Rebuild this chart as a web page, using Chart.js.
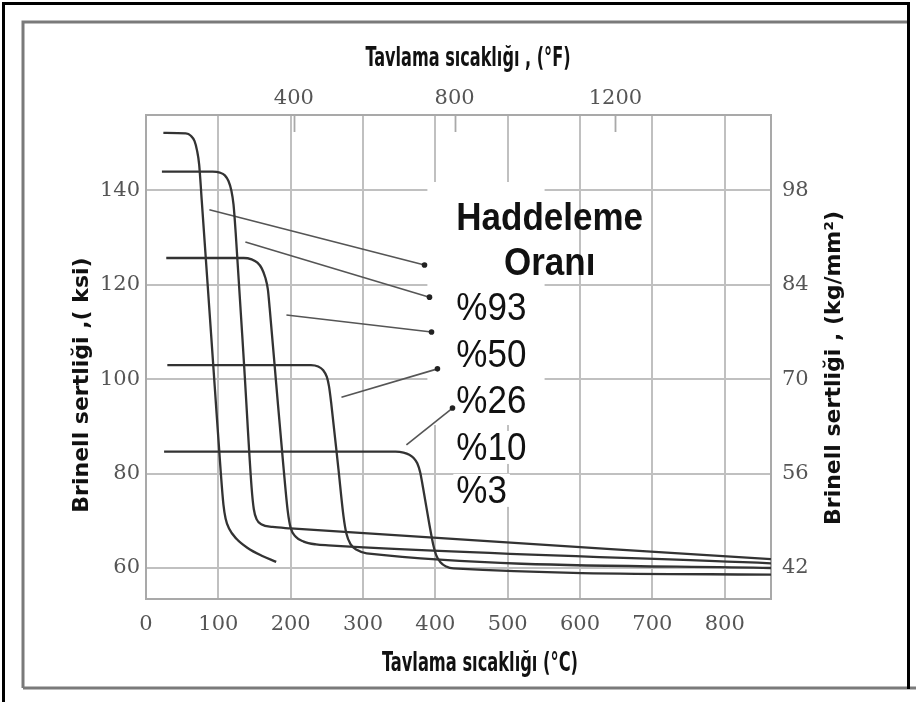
<!DOCTYPE html>
<html><head><meta charset="utf-8">
<script src="https://cdn.jsdelivr.net/npm/chart.js@4.4.1/dist/chart.umd.min.js"></script>
<style>html,body{margin:0;padding:0;background:#fff;overflow:hidden}#wrap{width:916px;height:702px;position:relative}</style>
</head><body><div id="wrap"><canvas id="c" width="916" height="702"></canvas></div>
<script>
// ---- data ----
const xTicksC = [0,100,200,300,400,500,600,700,800];          // °C
const xTicksF = [400,800,1200];                                // °F
const yTicksKsi = [60,80,100,120,140];                         // ksi
const yTicksKg = [42,56,70,84,98];                             // kg/mm²
const seriesNames = ['%93','%50','%26','%10','%3'];
const legendTitle = ['Haddeleme','Oranı'];
const xTitleTop = 'Tavlama sıcaklığı , (°F)';
const xTitleBottom = 'Tavlama sıcaklığı (°C)';
const yTitleLeft = 'Brinell sertliği ,( ksi)';
const yTitleRight = 'Brinell sertliği , (kg/mm²)';

// temperature °C , hardness ksi
const s93 = [[24,152.2],[55,152.1],[62,151.6],[67,150.5],[70.5,148.5],[73.5,145.5],[77,138],[85,120.5],[95,98.5],[103,81],[107,73.5],[110,70.5],[115,68.3],[125,66.2],[140,64.3],[160,62.6],[180,61.3]];
const s50 = [[22,144],[92,144],[102,143.8],[109,143.2],[114,142],[118,140],[121,137],[124,131],[136,102],[146,77],[149,72.5],[153,70.3],[160,69.2],[175,68.7],[200,68.4],[864,61.9]];
const s26 = [[28,125.7],[135,125.7],[146,125.4],[154,124.7],[160,123.5],[165,121.5],[168.5,119],[171,115],[180,99],[190,81.5],[196,72],[200,68.5],[207,66.6],[218,65.6],[235,65.0],[252,64.8],[864,61.0]];
const s10 = [[29.5,103],[228,103],[238,102.7],[245,101.9],[250,100.5],[253,98.5],[256,95],[266,81],[273,71],[277,67.3],[283,65.0],[292,63.8],[305,63.1],[864,60.0]];
const s3 = [[25,84.65],[345,84.65],[356,84.45],[364,84.0],[370,83.3],[375,82.2],[379,80.3],[383,77],[392,69],[397,65],[401,62.8],[407,61.2],[415,60.3],[425,59.9],[864,58.6]];
// annotation arrows: [start, end] in °C / ksi
const arrow1 = [[87.6,135.9],[385.0,124.2]];
const arrow2 = [[137.4,129.1],[391.9,117.4]];
const arrow3 = [[194.1,113.6],[394.7,110.0]];
const arrow4 = [[270.2,96.2],[402.9,102.2]];
const arrow5 = [[360.0,86.1],[423.7,93.9]];

const X_MIN = 0, X_MAX = 864, Y_MIN = 53.43, Y_MAX = 156, KG = 0.7;
const toF = c => 32 + 1.8*c;

// ---- styles ----
const tickFont = {family:'"DejaVu Serif", serif', size:21};
const tickColor = '#555';
const gridColor = '#c0c0c0';
const borderColor = '#a9a9a9';
const curveColor = '#333';

const pts = a => a.map(([x,y]) => ({x, y}));
const curve = (name, arr) => ({label:name, data:pts(arr), showLine:true, borderColor:curveColor, borderWidth:2.3,
  pointRadius:0, cubicInterpolationMode:'monotone', fill:false});
const arrow = arr => ({label:'arrow', data:pts(arr), showLine:true, borderColor:'#555', borderWidth:1.6,
  pointRadius:[0,2.8], pointBackgroundColor:'#222', pointBorderWidth:0, tension:0, fill:false});

const decor = {
  id:'decor',
  beforeDraw(chart){
    const c = chart.ctx;
    c.save();
    c.fillStyle = '#fff'; c.fillRect(0,0,chart.width,chart.height);
    c.strokeStyle = '#7a7a7a'; c.lineWidth = 3;
    c.beginPath(); c.moveTo(23,688); c.lineTo(23,22); c.lineTo(908,22); c.stroke();
    c.beginPath(); c.moveTo(23,688); c.lineTo(916,688); c.stroke();
    c.strokeStyle = '#000'; c.lineWidth = 3;
    c.beginPath(); c.moveTo(3.5,702); c.lineTo(3.5,3.5); c.lineTo(908.5,3.5); c.lineTo(908.5,689); c.stroke();
    c.restore();
  },
  beforeDatasetsDraw(chart){
    const c = chart.ctx, xs = chart.scales.x, ys = chart.scales.y, xt = chart.scales.x2, a = chart.chartArea;
    c.save();
    c.fillStyle = '#fff';
    const bx0 = xs.getPixelForValue(389), bx1 = xs.getPixelForValue(551);
    const by0 = ys.getPixelForValue(141.8), by1 = ys.getPixelForValue(90.3);
    c.fillRect(bx0, by0, bx1-bx0, by1-by0);
    c.strokeStyle = borderColor; c.lineWidth = 1.8;
    xTicksF.forEach(v => { const px = Math.round(xt.getPixelForValue(v))+0.5;
      c.beginPath(); c.moveTo(px, a.top); c.lineTo(px, a.top+17); c.stroke(); });
    c.restore();
  },
  afterDatasetsDraw(chart){
    const c = chart.ctx, xs = chart.scales.x, ys = chart.scales.y, a = chart.chartArea;
    c.save();
    const lx = xs.getPixelForValue(429);
    const base = [131.6,122.1,112.6,102.6,92.85,82.9,73.8].map(v => ys.getPixelForValue(v));
    const drawStretched = (txt, x, y, font, align) => {
      c.save(); c.font = font; c.textAlign = align; c.textBaseline = 'alphabetic';
      c.translate(x, y); c.scale(1, 1.1); c.fillStyle = '#111'; c.fillText(txt, 0, 0); c.restore();
    };
    const fb = 'bold 35px "Liberation Sans", Arial, sans-serif';
    const fr = '35px "Liberation Sans", Arial, sans-serif';
    c.font = fb;
    const wH = c.measureText(legendTitle[0]).width;
    drawStretched(legendTitle[0], lx, base[0], fb, 'left');
    drawStretched(legendTitle[1], lx + wH/2, base[1], fb, 'center');
    seriesNames.forEach((n,i) => {
      c.font = fr;
      const w = c.measureText(n).width;
      if (i >= 3) { c.fillStyle = '#fff'; c.fillRect(lx-3, base[2+i]-29, w+6, 33); }
      drawStretched(n, lx, base[2+i], fr, 'left');
    });
    const fitText = (txt, cx, cy, font, targetW) => {
      c.save(); c.font = font; c.textAlign = 'center'; c.textBaseline = 'middle'; c.fillStyle = '#111';
      const w = c.measureText(txt).width; c.translate(cx, cy); c.scale(targetW / w, 1);
      c.fillText(txt, 0, 0); c.restore();
    };
    const ft = 'bold 26px "Liberation Sans Narrow", "DejaVu Sans Condensed", sans-serif';
    fitText(xTitleTop, 468, 59, ft, 205);
    fitText(xTitleBottom, 480, 664, ft, 196);
    c.fillStyle = '#111'; c.textAlign = 'center'; c.textBaseline = 'middle';
    c.font = 'bold 22px "DejaVu Sans", sans-serif';
    c.save(); c.translate(a.left-64, (a.top+a.bottom)/2 + 28); c.rotate(-Math.PI/2); c.fillText(yTitleLeft, 0, 0); c.restore();
    c.save(); c.translate(a.right+63, (a.top+a.bottom)/2 + 11); c.rotate(-Math.PI/2); c.fillText(yTitleRight, 0, 0); c.restore();
    c.restore();
  }
};

const plain = v => String(v);

new Chart(document.getElementById('c'), {
  type:'scatter',
  data:{datasets:[
    curve(seriesNames[0], s93), curve(seriesNames[1], s50), curve(seriesNames[2], s26),
    curve(seriesNames[3], s10), curve(seriesNames[4], s3),
    arrow(arrow1), arrow(arrow2), arrow(arrow3), arrow(arrow4), arrow(arrow5)
  ]},
  options:{
    responsive:false, animation:false, devicePixelRatio:1,
    layout:{padding:0},
    plugins:{legend:{display:false}, title:{display:false}, tooltip:{enabled:false}},
    scales:{
      x:{type:'linear', position:'bottom', min:X_MIN, max:X_MAX,
        afterBuildTicks: s => { s.ticks = xTicksC.map(v => ({value:v})); },
        afterFit: s => { s.height = 103; },
        grid:{color:gridColor, lineWidth:2, drawTicks:false},
        border:{color:borderColor, width:2},
        ticks:{font:tickFont, color:tickColor, padding:13, maxRotation:0, autoSkip:false, callback:plain}},
      x2:{type:'linear', position:'top', min:toF(X_MIN), max:toF(X_MAX),
        afterBuildTicks: s => { s.ticks = xTicksF.map(v => ({value:v})); },
        afterFit: s => { s.height = 115; },
        grid:{display:false, drawTicks:false},
        border:{color:borderColor, width:2},
        ticks:{font:tickFont, color:tickColor, padding:4, maxRotation:0, autoSkip:false, callback:plain}},
      y:{type:'linear', position:'left', min:Y_MIN, max:Y_MAX,
        afterBuildTicks: s => { s.ticks = yTicksKsi.map(v => ({value:v})); },
        afterFit: s => { s.width = 146; },
        grid:{color:gridColor, lineWidth:2, drawTicks:false},
        border:{color:borderColor, width:2},
        ticks:{font:tickFont, color:tickColor, padding:6, callback:plain}},
      y2:{type:'linear', position:'right', min:Y_MIN*KG, max:Y_MAX*KG,
        afterBuildTicks: s => { s.ticks = yTicksKg.map(v => ({value:v})); },
        afterFit: s => { s.width = 145; },
        grid:{display:false, drawTicks:false},
        border:{color:borderColor, width:2},
        ticks:{font:tickFont, color:tickColor, padding:11, callback:plain}}
    }
  },
  plugins:[decor]
});
</script></body></html>
